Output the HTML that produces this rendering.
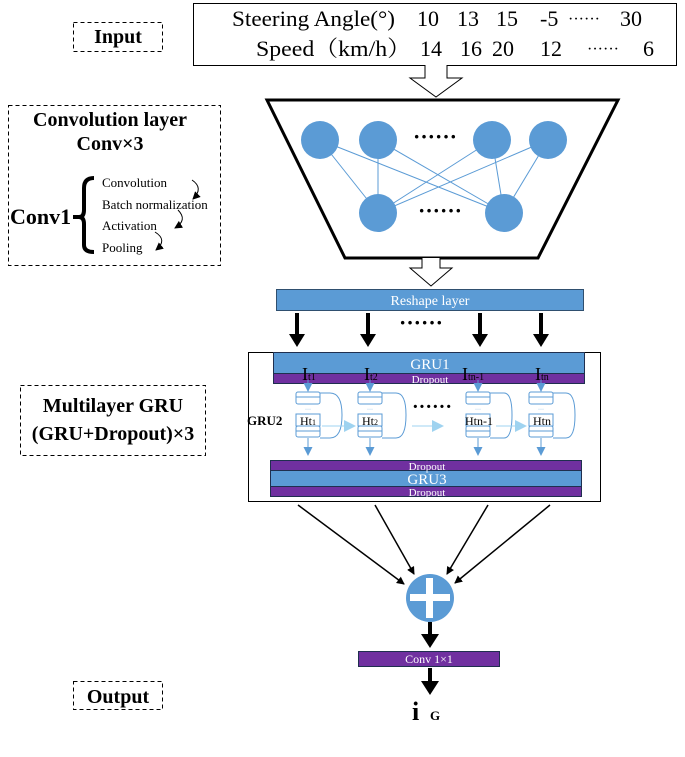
<!DOCTYPE html>
<html><head><style>body{margin:0;background:#fff}svg{display:block}</style></head><body>
<svg width="685" height="757" viewBox="0 0 685 757" xmlns="http://www.w3.org/2000/svg" font-family="Liberation Serif, serif">
<defs>
<marker id="bk" markerWidth="8" markerHeight="8" refX="7" refY="4" orient="auto" markerUnits="userSpaceOnUse"><path d="M0,0 L8,4 L0,8z" fill="#000"/></marker>
<marker id="bl" markerWidth="9" markerHeight="9" refX="8" refY="4.5" orient="auto" markerUnits="userSpaceOnUse"><path d="M0,0 L9,4.5 L0,9z" fill="#5b9bd5"/></marker>
<marker id="lb" markerWidth="12" markerHeight="12" refX="11" refY="6" orient="auto" markerUnits="userSpaceOnUse"><path d="M0,0 L12,6 L0,12z" fill="#9fd3f0"/></marker>
</defs>
<!-- input table -->
<rect x="193.5" y="3.5" width="483" height="62" fill="#fff" stroke="#000"/>
<g font-size="22">
<text x="232" y="26" textLength="163" lengthAdjust="spacingAndGlyphs">Steering Angle(°)</text>
<text x="417" y="26">10</text><text x="457" y="26">13</text><text x="496" y="26">15</text><text x="540" y="26">-5</text>
<text x="568" y="24" font-size="16">······</text><text x="620" y="26">30</text>
<text x="256" y="56" font-family="Liberation Serif, Noto Serif CJK SC, serif" textLength="155" lengthAdjust="spacingAndGlyphs">Speed（km/h）</text>
<text x="420" y="56">14</text><text x="460" y="56">16</text><text x="492" y="56">20</text><text x="540" y="56">12</text>
<text x="587" y="54" font-size="16">······</text><text x="643" y="56">6</text>
</g>
<!-- hollow arrow 1 -->
<path d="M425,65 V78 H410 L436,97 L462,78 H447 V65" fill="#fff" stroke="#000"/>
<!-- left dashed boxes -->
<g fill="none" stroke="#000" stroke-dasharray="4,3">
<rect x="73.5" y="22.5" width="89" height="29"/>
<rect x="8.5" y="105.5" width="212" height="160"/>
<rect x="20.5" y="385.5" width="185" height="70"/>
<rect x="73.5" y="681.5" width="89" height="28"/>
</g>
<g font-weight="bold" font-size="20" text-anchor="middle">
<text x="118" y="43">Input</text>
<text x="110" y="126">Convolution layer</text>
<text x="110" y="150">Conv×3</text>
<text x="113" y="412">Multilayer GRU</text>
<text x="113" y="440">(GRU+Dropout)×3</text>
<text x="118" y="703">Output</text>
</g>
<text x="10" y="224" font-size="22" font-weight="bold">Conv1</text>
<path d="M73,217 H82 M94,178 Q84,178 84,188 V210 Q84,217 79,217 Q84,217 84,224 V245 Q84,252 94,252" fill="none" stroke="#000" stroke-width="4"/>
<g font-size="13">
<text x="102" y="187">Convolution</text>
<text x="102" y="209">Batch normalization</text>
<text x="102" y="230">Activation</text>
<text x="102" y="252">Pooling</text>
</g>
<g fill="none" stroke="#000" stroke-width="1" marker-end="url(#bk)">
<path d="M192,180 Q204,188 193,199"/>
<path d="M178,210 Q188,220 175,228"/>
<path d="M155,232 Q168,240 156,250"/>
</g>
<!-- trapezoid -->
<path d="M267,100 H618 L538,258 H345 Z" fill="#fff" stroke="#000" stroke-width="3"/>
<g stroke="#5b9bd5" stroke-width="1">
<line x1="320" y1="140" x2="378" y2="213"/><line x1="320" y1="140" x2="504" y2="213"/>
<line x1="378" y1="140" x2="378" y2="213"/><line x1="378" y1="140" x2="504" y2="213"/>
<line x1="492" y1="140" x2="378" y2="213"/><line x1="492" y1="140" x2="504" y2="213"/>
<line x1="548" y1="140" x2="378" y2="213"/><line x1="548" y1="140" x2="504" y2="213"/>
</g>
<g fill="#5b9bd5">
<circle cx="320" cy="140" r="19"/><circle cx="378" cy="140" r="19"/><circle cx="492" cy="140" r="19"/><circle cx="548" cy="140" r="19"/>
<circle cx="378" cy="213" r="19"/><circle cx="504" cy="213" r="19"/>
</g>
<text x="435" y="144" font-size="22" font-weight="bold" text-anchor="middle">······</text>
<text x="440" y="218" font-size="22" font-weight="bold" text-anchor="middle">······</text>
<!-- hollow arrow 2 -->
<path d="M422,258 V268 H410 L431,286 L452,268 H440 V258" fill="#fff" stroke="#000"/>
<!-- reshape -->
<rect x="276.5" y="289.5" width="307" height="21" fill="#5b9bd5" stroke="#2f4f6f"/>
<text x="430" y="305" font-size="14" fill="#fff" text-anchor="middle">Reshape layer</text>
<g stroke="#000" stroke-width="4">
<line x1="297" y1="313" x2="297" y2="336"/><line x1="368" y1="313" x2="368" y2="336"/><line x1="480" y1="313" x2="480" y2="336"/><line x1="541" y1="313" x2="541" y2="336"/>
</g>
<g fill="#000">
<path d="M289,334 L305,334 L297,347Z"/><path d="M360,334 L376,334 L368,347Z"/><path d="M472,334 L488,334 L480,347Z"/><path d="M533,334 L549,334 L541,347Z"/>
</g>
<text x="421" y="330" font-size="22" font-weight="bold" text-anchor="middle">······</text>
<!-- GRU box -->
<rect x="248.5" y="352.5" width="352" height="149" fill="none" stroke="#000"/>
<rect x="273.5" y="352.5" width="311" height="21" fill="#5b9bd5" stroke="#1f2f4f"/>
<rect x="273.5" y="373.5" width="311" height="10" fill="#7030a0" stroke="#1f2f4f"/>
<text x="430" y="369" font-size="15" fill="#fff" text-anchor="middle">GRU1</text>
<text x="430" y="383" font-size="11" fill="#fff" text-anchor="middle">Dropout</text>
<g font-size="18"><text x="302" y="380">I<tspan font-size="10">t1</tspan></text>
<text x="364" y="380">I<tspan font-size="10">t2</tspan></text>
<text x="462" y="380">I<tspan font-size="10">tn-1</tspan></text>
<text x="535" y="380">I<tspan font-size="10">tn</tspan></text></g>
<g stroke="#5b9bd5" fill="none" stroke-width="1">
<g>
<line x1="308" y1="380" x2="308" y2="391" marker-end="url(#bl)"/>
<rect x="296" y="392" width="24" height="12" rx="2"/><line x1="296" y1="397" x2="320" y2="397"/>
<rect x="296" y="414" width="24" height="12"/><rect x="296" y="426" width="24" height="11" rx="2"/><line x1="296" y1="431" x2="320" y2="431"/>
<path d="M320,393 H330 Q342,393 342,415 Q342,438 330,438 H320"/>
<line x1="308" y1="438" x2="308" y2="455" marker-end="url(#bl)"/>
</g>
<g>
<line x1="370" y1="380" x2="370" y2="391" marker-end="url(#bl)"/>
<rect x="358" y="392" width="24" height="12" rx="2"/><line x1="358" y1="397" x2="382" y2="397"/>
<rect x="358" y="414" width="24" height="12"/><rect x="358" y="426" width="24" height="11" rx="2"/><line x1="358" y1="431" x2="382" y2="431"/>
<path d="M382,393 H396 Q406,393 406,415 Q406,438 396,438 H382"/>
<line x1="370" y1="438" x2="370" y2="455" marker-end="url(#bl)"/>
</g>
<g>
<line x1="478" y1="380" x2="478" y2="391" marker-end="url(#bl)"/>
<rect x="466" y="392" width="24" height="12" rx="2"/><line x1="466" y1="397" x2="490" y2="397"/>
<rect x="466" y="414" width="24" height="12"/><rect x="466" y="426" width="24" height="11" rx="2"/><line x1="466" y1="431" x2="490" y2="431"/>
<path d="M490,393 H504 Q512,393 512,415 Q512,438 504,438 H490"/>
<line x1="478" y1="438" x2="478" y2="455" marker-end="url(#bl)"/>
</g>
<g>
<line x1="541" y1="380" x2="541" y2="391" marker-end="url(#bl)"/>
<rect x="529" y="392" width="24" height="12" rx="2"/><line x1="529" y1="397" x2="553" y2="397"/>
<rect x="529" y="414" width="24" height="12"/><rect x="529" y="426" width="24" height="11" rx="2"/><line x1="529" y1="431" x2="553" y2="431"/>
<path d="M553,393 H566 Q575,393 575,415 Q575,438 566,438 H553"/>
<line x1="541" y1="438" x2="541" y2="455" marker-end="url(#bl)"/>
</g>
</g>
<g stroke="#9fd3f0" stroke-width="1">
<line x1="322" y1="426" x2="355" y2="426" marker-end="url(#lb)"/>
<line x1="412" y1="426" x2="443" y2="426" marker-end="url(#lb)"/>
<line x1="496" y1="426" x2="526" y2="426" marker-end="url(#lb)"/>
</g>
<g font-size="6" fill="#5b9bd5" text-anchor="middle"><text x="308" y="411">···</text><text x="370" y="411">···</text><text x="478" y="411">···</text><text x="541" y="411">···</text></g>
<g font-size="12" text-anchor="middle"><text x="308" y="425">Ht<tspan font-size="8">1</tspan></text><text x="370" y="425">Ht<tspan font-size="8">2</tspan></text><text x="479" y="425">Htn-1</text><text x="542" y="425">Htn</text></g>
<text x="247" y="425" font-size="13" font-weight="bold">GRU2</text>
<text x="432" y="413" font-size="20" font-weight="bold" text-anchor="middle">······</text>
<rect x="270.5" y="460.5" width="311" height="10" fill="#7030a0" stroke="#1f2f4f"/>
<rect x="270.5" y="470.5" width="311" height="16" fill="#5b9bd5" stroke="#1f2f4f"/>
<rect x="270.5" y="486.5" width="311" height="10" fill="#7030a0" stroke="#1f2f4f"/>
<text x="427" y="470" font-size="11" fill="#fff" text-anchor="middle">Dropout</text>
<text x="427" y="484" font-size="15" fill="#fff" text-anchor="middle">GRU3</text>
<text x="427" y="496" font-size="11" fill="#fff" text-anchor="middle">Dropout</text>
<!-- convergence -->
<g stroke="#000" stroke-width="1.5" marker-end="url(#bk)">
<line x1="298" y1="505" x2="404" y2="584"/>
<line x1="375" y1="505" x2="414" y2="574"/>
<line x1="488" y1="505" x2="447" y2="574"/>
<line x1="550" y1="505" x2="455" y2="583"/>
</g>
<circle cx="430" cy="598" r="24" fill="#5b9bd5"/>
<rect x="426" y="578" width="7" height="40" fill="#fff"/><rect x="410" y="594" width="40" height="7" fill="#fff"/>
<line x1="430" y1="622" x2="430" y2="636" stroke="#000" stroke-width="4"/>
<path d="M421,634 L439,634 L430,648Z"/>
<rect x="358.5" y="651.5" width="141" height="15" fill="#7030a0" stroke="#1f2f4f"/>
<text x="429" y="663" font-size="12" fill="#fff" text-anchor="middle">Conv 1×1</text>
<line x1="430" y1="668" x2="430" y2="683" stroke="#000" stroke-width="4"/>
<path d="M421,681 L439,681 L430,695Z"/>
<text x="412" y="720" font-size="26" font-weight="bold">i</text>
<text x="430" y="720" font-size="13" font-weight="bold">G</text>
</svg>
</body></html>
